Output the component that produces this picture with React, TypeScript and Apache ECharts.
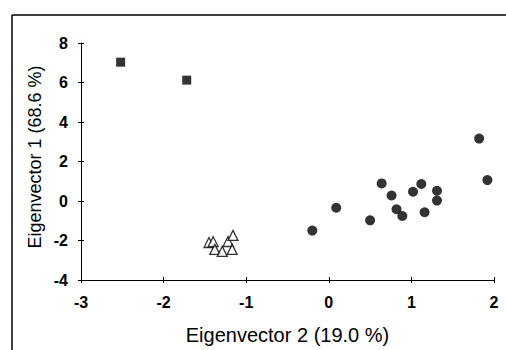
import React, { useEffect, useRef } from "react";
import * as echarts from "echarts";

const squares: [number, number][] = [
  [-2.52, 7.03],
  [-1.72, 6.12],
];
const triangles: [number, number][] = [
  [-1.45, -2.1],
  [-1.4, -2.06],
  [-1.38, -2.45],
  [-1.29, -2.55],
  [-1.22, -2.05],
  [-1.16, -1.74],
  [-1.17, -2.45],
];
const circles: [number, number][] = [
  [1.82, 3.16],
  [1.92, 1.06],
  [0.64, 0.89],
  [0.76, 0.28],
  [1.12, 0.86],
  [1.02, 0.47],
  [1.31, 0.52],
  [1.31, 0.02],
  [0.82, -0.42],
  [0.89, -0.76],
  [1.16, -0.57],
  [0.09, -0.34],
  [0.5, -0.98],
  [-0.2, -1.5],
];
const xTicks = [-3, -2, -1, 0, 1, 2];
const yTicks = [-4, -2, 0, 2, 4, 6, 8];
const xTitle = "Eigenvector 2 (19.0 %)";
const yTitle = "Eigenvector 1 (68.6 %)";

const FONT = "'Liberation Sans', Arial, sans-serif";

export default function App() {
  const ref = useRef<HTMLDivElement>(null);
  useEffect(() => {
    if (!ref.current) return;
    const chart = echarts.init(ref.current, undefined, { renderer: "svg" });
    const xMin = xTicks[0];
    const xMax = xTicks[xTicks.length - 1];
    const yMin = yTicks[0];
    const yMax = yTicks[yTicks.length - 1];
    const axisLine = { show: true, onZero: false, lineStyle: { color: "#000", width: 1 } };
    const labelStyle = {
      color: "#000",
      fontFamily: FONT,
      fontSize: 16,
      fontWeight: "bold",
      margin: 14,
    };
    chart.setOption({
      animation: false,
      backgroundColor: "#fff",
      grid: { left: 81, right: 12, top: 43, bottom: 69, containLabel: false },
      xAxis: [
        {
          type: "value",
          min: xMin,
          max: xMax,
          interval: 1,
          position: "bottom",
          axisLine,
          axisTick: { show: true, length: 3, lineStyle: { color: "#000" } },
          splitLine: { show: false },
          axisLabel: labelStyle,
          name: xTitle,
          nameLocation: "middle",
          nameGap: 45,
          nameTextStyle: { color: "#000", fontFamily: FONT, fontSize: 20 },
        },
        {
          type: "value",
          min: xMin,
          max: xMax,
          interval: 1,
          position: "bottom",
          axisLine: { show: false, onZero: false },
          axisTick: { show: true, inside: true, length: 3, lineStyle: { color: "#000" } },
          splitLine: { show: false },
          axisLabel: { show: false },
        },
      ],
      yAxis: [
        {
          type: "value",
          min: yMin,
          max: yMax,
          interval: 2,
          position: "left",
          axisLine,
          axisTick: { show: true, length: 3, lineStyle: { color: "#000" } },
          splitLine: { show: false },
          axisLabel: { ...labelStyle, margin: 13 },
        },
        {
          type: "value",
          min: yMin,
          max: yMax,
          interval: 2,
          position: "left",
          axisLine: { show: false, onZero: false },
          axisTick: { show: true, inside: true, length: 3, lineStyle: { color: "#000" } },
          splitLine: { show: false },
          axisLabel: { show: false },
        },
      ],
      graphic: [
        {
          type: "line",
          shape: { x1: 12, y1: 15, x2: 12, y2: 350 },
          style: { stroke: "#000", lineWidth: 1.5 },
        },
        {
          type: "line",
          shape: { x1: 12, y1: 15, x2: 506, y2: 15 },
          style: { stroke: "#000", lineWidth: 1.5 },
        },
        {
          type: "text",
          x: 35,
          y: 157,
          rotation: Math.PI / 2,
          style: {
            text: yTitle,
            fill: "#000",
            font: `18px ${FONT}`,
            align: "center",
            verticalAlign: "middle",
          },
        },
      ],
      series: [
        {
          type: "scatter",
          data: squares,
          symbol: "rect",
          symbolSize: 9,
          itemStyle: { color: "#000" },
        },
        {
          type: "scatter",
          data: triangles,
          symbol: "triangle",
          symbolSize: 10,
          itemStyle: { color: "#fff", borderColor: "#000", borderWidth: 1.3 },
        },
        {
          type: "scatter",
          data: circles,
          symbol: "circle",
          symbolSize: 10,
          itemStyle: { color: "#000" },
        },
      ],
    });
    return () => chart.dispose();
  }, []);
  return <div ref={ref} style={{ width: 506, height: 350, position: "absolute", left: 0, top: 0 }} />;
}
